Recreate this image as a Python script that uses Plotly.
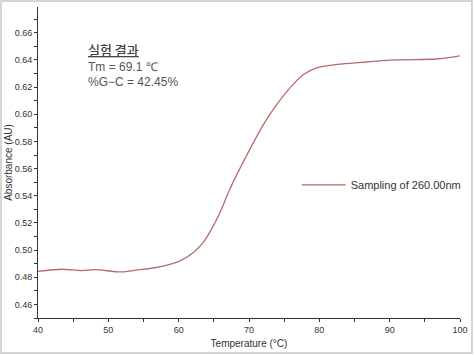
import plotly.graph_objects as go

temperature = [40, 43.3, 46.2, 48.1, 51.8, 54.2, 56.6, 58.2, 60.2, 62.1, 63.5,
               64.7, 65.9, 67.3, 68.7, 70.1, 72, 73.9, 75.8, 77.7, 79.6, 81.5,
               86.3, 91, 96.7, 100]
absorbance = [0.4843, 0.4859, 0.4849, 0.4856, 0.4839, 0.4854, 0.4870, 0.4888,
              0.4921, 0.4983, 0.5057, 0.5156, 0.5279, 0.5452, 0.5600, 0.5740,
              0.5920, 0.6069, 0.6193, 0.6291, 0.6341, 0.6360, 0.6383, 0.6400,
              0.6407, 0.6430]
y_ticks = [0.46, 0.48, 0.50, 0.52, 0.54, 0.56, 0.58, 0.60, 0.62, 0.64, 0.66]
x_ticks = [40, 50, 60, 70, 80, 90, 100]
series_name = "Sampling of 260.00nm"

fig = go.Figure()
fig.add_trace(go.Scatter(
    x=temperature, y=absorbance, mode="lines", name=series_name,
    line=dict(color="#b86a6a", width=1.3, shape="spline", smoothing=0.8),
))

axis_common = dict(
    showline=True, linecolor="#333333", linewidth=1, showgrid=False,
    zeroline=False, ticks="outside", ticklen=3, tickcolor="#333333",
    tickfont=dict(size=9, color="#333333", family="Liberation Sans, Arial, sans-serif"),
    mirror=False, automargin=False,
)

fig.update_xaxes(range=[40, 100], tickvals=x_ticks,
                 title=dict(text="Temperature (°C)", standoff=6,
                            font=dict(size=10, color="#333333")),
                 minor=dict(dtick=5, ticks="outside", ticklen=3, tickcolor="#333333"),
                 **axis_common)
fig.update_yaxes(range=[0.45, 0.679], tickvals=y_ticks, tickformat=".2f",
                 title=dict(text="Absorbance (AU)", standoff=0,
                            font=dict(size=10, color="#333333")),
                 minor=dict(dtick=0.01, tick0=0.45, ticks="outside", ticklen=3, tickcolor="#333333"),
                 **axis_common)

fig.add_annotation(x=46.8, y=0.6478, xref="x", yref="y", xanchor="left", yanchor="middle",
                   text="<u>실험 결과</u>", showarrow=False,
                   font=dict(size=13, color="#444444", family="Noto Sans CJK KR", weight=500))
fig.add_annotation(x=46.8, y=0.6345, xref="x", yref="y", xanchor="left", yanchor="middle",
                   text="Tm = 69.1 ℃", showarrow=False,
                   font=dict(size=12, color="#555555", family="Liberation Sans, Arial, sans-serif"))
fig.add_annotation(x=46.8, y=0.6240, xref="x", yref="y", xanchor="left", yanchor="middle",
                   text="%G−C = 42.45%", showarrow=False,
                   font=dict(size=12, color="#555555", family="Liberation Sans, Arial, sans-serif"))

fig.add_shape(type="rect", xref="paper", yref="paper",
              x0=-0.0877, x1=1.0284, y0=-0.1125, y1=1.0193,
              line=dict(color="#c8c8c8", width=1.5), fillcolor="rgba(0,0,0,0)")

fig.update_layout(
    width=475, height=355,
    margin=dict(l=38, r=15, t=7, b=37, autoexpand=False),
    paper_bgcolor="white", plot_bgcolor="white",
    font=dict(family="Liberation Sans, Arial, sans-serif", color="#333333"),
    showlegend=True,
    legend=dict(x=0.613, y=0.428, xanchor="left", yanchor="middle", itemwidth=44,
                bgcolor="rgba(0,0,0,0)", font=dict(size=11, color="#333333")),
)

fig.write_html("out.html", config={"displayModeBar": False},
               post_script="document.body.style.margin='0';document.body.style.overflow='hidden';")
